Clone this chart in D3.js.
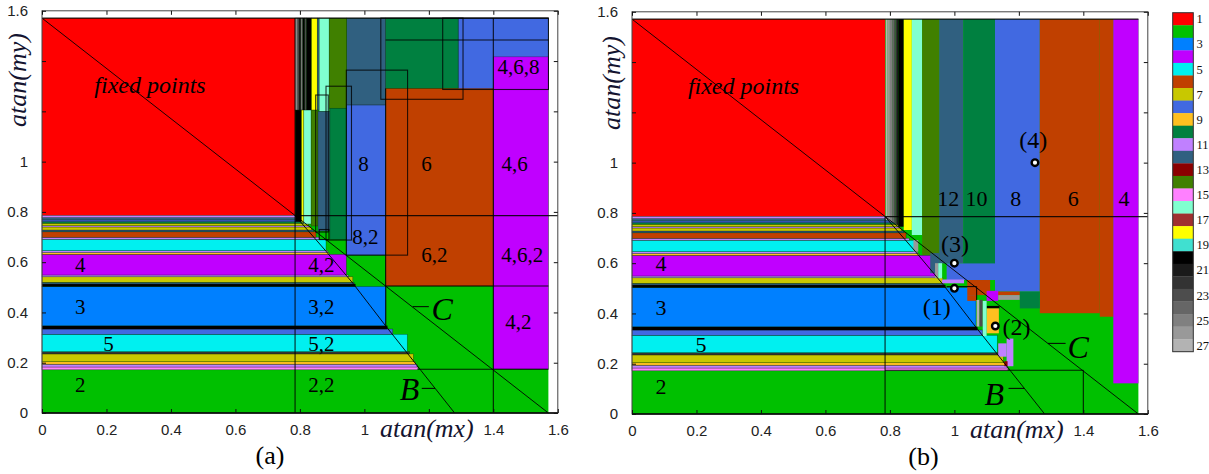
<!DOCTYPE html>
<html><head><meta charset="utf-8">
<script src="https://cdn.jsdelivr.net/npm/d3@7"></script>
<style>body{margin:0;background:#fff;overflow:hidden} svg{display:block}</style>
</head><body><svg id="c" width="1209" height="474"></svg>
<script>
// ---------- DATA ----------
const HALF_PI = Math.PI / 2, QUARTER_PI = Math.PI / 4;
const legendPeriods = [1,2,3,4,5,6,7,8,9,10,11,12,13,14,15,16,17,18,19,20,21,22,23,24,25,26,27];
const palette = ["#ff0000","#00c000","#0080ff","#c000ff","#00f0f0","#c04000","#c8c800","#4169e1","#ffc020","#008040",
  "#c080ff","#306080","#8b0000","#408000","#ff80ff","#80ffd0","#a03030","#ffff00","#40e0d0","#000000",
  "#1a1a1a","#333333","#4d4d4d","#666666","#808080","#999999","#b3b3b3"];
const legendLabels = [1,3,5,7,9,11,13,15,17,19,21,23,25,27];
const xTicks = [0,0.2,0.4,0.6,0.8,1,1.2,1.4,1.6];
const xTickLabels = ["0","0.2","0.4","0.6","0.8","1","","1.4","1.6"];
const yTickLabels = ["0","0.2","0.4","0.6","0.8","1","","","1.6"];

// horizontal bands: [y0, y1, period, xEnd]
const bands = [
 [0.172,0.183,15,1.166],[0.183,0.194,11,1.163],[0.194,0.204,9,1.158],[0.204,0.235,7,1.152],
 [0.235,0.244,22,1.140],[0.244,0.313,5,1.133],[0.313,0.334,8,1.088],[0.334,0.347,20,1.071],
 [0.347,0.503,3,1.067],[0.503,0.513,20,0.972],[0.513,0.520,12,0.968],[0.520,0.542,7,0.964],
 [0.542,0.549,11,0.950],[0.549,0.631,4,0.944],[0.631,0.638,9,0.890],[0.638,0.646,11,0.886],
 [0.646,0.691,5,0.881],[0.691,0.699,11,0.860],[0.699,0.721,6,0.850],[0.721,0.728,12,0.842],
 [0.728,0.740,7,0.836],[0.740,0.745,11,0.830],[0.745,0.755,7,0.826],[0.755,0.761,10,0.820],
 [0.761,0.768,8,0.815],[0.768,0.777,12,0.808],[0.777,0.786,11,0.800]
];

// panel (a) regions: [x0, x1, y0, y1, period]
const leftRegions = [
 [1.291,1.571,1.287,1.571,8],[1.066,1.291,1.291,1.571,10],[0.945,1.066,1.225,1.571,12],
 [1.066,1.400,0.505,1.291,6],[1.400,1.571,0.175,1.417,4],[0.945,1.066,0.628,1.225,8],
 [0.785,0.791,1.205,1.571,27],[0.791,0.797,1.205,1.571,24],[0.797,0.803,1.205,1.571,21],
 [0.803,0.809,1.205,1.571,25],[0.809,0.815,1.205,1.571,20],[0.815,0.821,1.205,1.571,23],
 [0.821,0.836,1.205,1.571,20],[0.836,0.854,1.205,1.571,18],[0.854,0.860,1.205,1.571,12],
 [0.860,0.891,1.200,1.571,16],[0.891,0.945,1.212,1.571,14],
 [0.786,0.805,0.761,1.205,20],[0.805,0.812,0.758,1.205,18],[0.812,0.835,0.752,1.205,16],
 [0.835,0.856,0.744,1.205,14],[0.856,0.893,0.724,1.200,12],[0.893,0.945,0.690,1.212,10]
];
const leftBoxes = [
 [0.944,1.134,0.628,1.364],[1.051,1.306,1.248,1.571],[1.243,1.571,1.287,1.571],
 [0.881,0.960,0.688,1.300],[0.849,0.888,0.720,1.265],[0.860,0.890,0.690,0.730]
];
const leftLines = [
 [0.785,0,0.785,1.571],[0.785,0.785,1.6,0.785],[1.066,0.347,1.066,1.291],
 [1.066,0.505,1.571,0.505],[1.066,1.484,1.571,1.484],[1.400,0,1.400,1.571],
 [1.165,0.174,1.571,0.174],[0,1.571,1.571,1.571]
];
const leftLabels = [
 ["4,6,8",1.478,1.378],["8",0.997,0.993],["6",1.193,0.993],["4,6",1.466,0.993],
 ["8,2",1.003,0.701],["6,2",1.217,0.628],["4,6,2",1.490,0.628],["4",0.119,0.589],
 ["4,2",0.867,0.589],["3",0.119,0.423],["3,2",0.867,0.423],["4,2",1.478,0.363],
 ["5",0.206,0.277],["5,2",0.867,0.277],["2",0.119,0.111],["2,2",0.867,0.111]
];
const leftLetters = [["C",1.241,0.416,1.150,1.200,0.423],["B",1.140,0.098,1.178,1.219,0.098]];

// panel (b) vertical strips: [x0, x1, yBottom, period]
const rightStrips = [
 [0.787,0.793,0.772,27],[0.793,0.800,0.770,26],[0.800,0.807,0.766,25],[0.807,0.813,0.762,24],
 [0.813,0.818,0.758,23],[0.818,0.822,0.755,22],[0.822,0.826,0.752,21],[0.826,0.843,0.745,20],
 [0.843,0.868,0.732,18],[0.868,0.900,0.712,16],[0.900,0.953,0.633,14],[0.953,1.028,0.599,12],
 [1.028,1.126,0.566,10],[1.126,1.265,0.487,8],[1.265,1.451,0.401,6],[1.451,1.493,0.387,6],
 [1.493,1.571,0.122,4]
];
// panel (b) small patches: [x0, x1, y0, y1, period]
const rightPatches = [
 [0.873,0.888,0.646,0.692,26],[0.925,0.953,0.560,0.640,12],[0.940,0.950,0.540,0.600,26],
 [0.950,0.962,0.540,0.600,16],[0.976,1.126,0.533,0.599,8],[0.962,1.030,0.520,0.535,11],
 [1.040,1.111,0.473,0.533,6],[1.111,1.203,0.473,0.487,6],[1.040,1.069,0.450,0.473,6],
 [1.100,1.136,0.450,0.490,4],[1.136,1.203,0.454,0.473,26],[1.203,1.265,0.420,0.487,10],
 [1.100,1.140,0.420,0.430,20],[1.100,1.138,0.321,0.420,9],[1.069,1.078,0.348,0.454,27],
 [1.078,1.088,0.348,0.454,23],[1.088,1.100,0.310,0.450,16],[1.136,1.162,0.228,0.281,11],
 [1.162,1.183,0.190,0.300,11],[1.155,1.165,0.190,0.210,13]
];
const rightLines = [
 [0.785,0,0.785,0.785],[0.785,0.785,1.6,0.785],[0.785,0.174,1.400,0.174],[1.400,0,1.400,0.174],
 [0.976,0.507,1.069,0.507],[1.069,0.454,1.069,0.507],[0,1.571,1.571,1.571]
];
const rightLabels = [
 ["12",0.981,0.858],["10",1.069,0.858],["8",1.190,0.858],["6",1.369,0.858],["4",1.526,0.858],
 ["4",0.090,0.600],["3",0.090,0.423],["5",0.214,0.277],["2",0.090,0.111]
];
const rightLetters = [["C",1.384,0.268,1.290,1.345,0.281],["B",1.124,0.082,1.168,1.217,0.102]];
const points = [[1.0,0.5],[1.127,0.35],[1.0,0.6],[1.25,1.0]];
const pointLabels = [["(1)",0.945,0.427],["(2)",1.193,0.347],["(3)",1.002,0.679],["(4)",1.245,1.09]];

const lineDiag = [[0,1.5708],[1.5708,0]];
const lineB = [[0.785,0.785],[0.88,0.645],[0.965,0.515],[1.067,0.345],[1.135,0.235],[1.175,0.17],[1.28,0]];

// ---------- DRAW ----------
const svg = d3.select("#c");
const color = d3.scaleOrdinal(legendPeriods, palette);
const SERIF = "'Liberation Serif','DejaVu Serif',serif";
const SANS = "'Liberation Sans',Arial,sans-serif";

function panel(px0, pyb, opts) {
  const x = d3.scaleLinear().domain([0,1.6]).range([px0, px0 + 515.8]);
  const y = d3.scaleLinear().domain([0,1.6]).range([pyb, pyb - 402.2]);
  const g = svg.append("g");
  const R = (sel, a, b, c, d) => sel.attr("x", x(a)).attr("y", y(d))
      .attr("width", Math.max(0, x(b) - x(a))).attr("height", Math.max(0, y(c) - y(d)));

  R(g.append("rect"), 0, HALF_PI, 0, HALF_PI).attr("fill", color(2));
  R(g.append("rect"), 0, QUARTER_PI, QUARTER_PI, HALF_PI).attr("fill", color(1));

  g.append("g").selectAll("rect").data(bands).join("rect")
    .each(function(d){ R(d3.select(this), 0, d[3], d[0], d[1]); })
    .attr("fill", d => color(d[2]))
    .attr("stroke", "rgba(0,0,0,0.45)").attr("stroke-width", 0.6);

  if (opts.regions) {
    g.append("g").selectAll("rect").data(opts.regions).join("rect")
      .each(function(d){ R(d3.select(this), d[0], d[1], d[2], d[3]); })
      .attr("fill", d => color(d[4]))
      .attr("stroke", "rgba(0,0,0,0.35)").attr("stroke-width", 0.7);
  }
  if (opts.strips) {
    g.append("g").selectAll("rect").data(opts.strips).join("rect")
      .each(function(d){ R(d3.select(this), d[0], d[1], d[2], HALF_PI); })
      .attr("fill", d => color(d[3]));
  }
  if (opts.patches) {
    g.append("g").selectAll("rect").data(opts.patches).join("rect")
      .each(function(d){ R(d3.select(this), d[0], d[1], d[2], d[3]); })
      .attr("fill", d => color(d[4]));
  }
  if (opts.boxes) {
    g.append("g").selectAll("rect").data(opts.boxes).join("rect")
      .each(function(d){ R(d3.select(this), d[0], d[1], d[2], d[3]); })
      .attr("fill", "none").attr("stroke", "rgba(0,0,0,0.8)").attr("stroke-width", 1.1);
  }
  g.append("g").selectAll("line").data(opts.lines).join("line")
    .attr("x1", d => x(d[0])).attr("y1", d => y(d[1])).attr("x2", d => x(d[2])).attr("y2", d => y(d[3]))
    .attr("stroke", "rgba(0,0,0,0.85)").attr("stroke-width", 1.1);

  const line = d3.line().x(d => x(d[0])).y(d => y(d[1]));
  g.append("path").attr("d", line(lineDiag)).attr("fill","none").attr("stroke","#000").attr("stroke-width",0.9);
  g.append("path").attr("d", line(lineB)).attr("fill","none").attr("stroke","#000").attr("stroke-width",0.9);

  g.append("rect").attr("x", x(0)).attr("y", y(1.6)).attr("width", x(1.6)-x(0)).attr("height", y(0)-y(1.6))
    .attr("fill","none").attr("stroke","#444").attr("stroke-width",1);
  g.append("line").attr("x1",x(0)).attr("x2",x(1.6)).attr("y1",y(0)).attr("y2",y(0)).attr("stroke","#000").attr("stroke-width",1.5);

  const styleAxis = a => { a.select(".domain").remove(); a.selectAll("line").attr("stroke","#111");
    a.selectAll("text").attr("font-family", SANS).attr("font-size", 15).attr("fill","#222"); };
  g.append("g").attr("transform", `translate(0,${pyb})`)
    .call(d3.axisBottom(x).tickValues(xTicks).tickSizeInner(-4).tickSizeOuter(0).tickPadding(11)
      .tickFormat((d,i) => xTickLabels[i])).call(styleAxis);
  g.append("g").attr("transform", `translate(${px0},0)`)
    .call(d3.axisLeft(y).tickValues(xTicks).tickSizeInner(-4).tickSizeOuter(0).tickPadding(14)
      .tickFormat((d,i) => yTickLabels[i])).call(styleAxis);
  g.append("g").attr("transform", `translate(0,${y(1.6)})`)
    .call(d3.axisTop(x).tickValues(xTicks).tickSizeInner(-4).tickSizeOuter(0).tickFormat("")).call(styleAxis);
  g.append("g").attr("transform", `translate(${x(1.6)},0)`)
    .call(d3.axisRight(y).tickValues(xTicks).tickSizeInner(-4).tickSizeOuter(0).tickFormat("")).call(styleAxis);

  g.append("text").attr("x", x(opts.fixedX)).attr("y", y(1.30)).attr("dy","0.3em")
    .attr("text-anchor","middle").attr("font-family",SERIF).attr("font-style","italic")
    .attr("font-size",24).text("fixed points");
  g.append("g").selectAll("text").data(opts.labels).join("text")
    .attr("x", d => x(d[1])).attr("y", d => y(d[2])).attr("dy","0.35em").attr("text-anchor","middle")
    .attr("font-family",SERIF).attr("font-size", opts.labelSize).attr("fill","#000").text(d => d[0]);
  const lg = g.append("g");
  opts.letters.forEach(d => {
    lg.append("line").attr("x1", x(d[3])).attr("x2", x(d[4])).attr("y1", y(d[5])).attr("y2", y(d[5]))
      .attr("stroke","#000").attr("stroke-width",1);
    lg.append("text").attr("x", x(d[1])).attr("y", y(d[2])).attr("dy","0.35em").attr("text-anchor","middle")
      .attr("font-family",SERIF).attr("font-style","italic").attr("font-size",32).text(d[0]);
  });

  g.append("text").attr("x", x(1.2) - 2).attr("y", pyb + 24).attr("text-anchor","middle")
    .attr("font-family",SERIF).attr("font-style","italic").attr("font-size",26).attr("fill","#141430").text("atan(mx)");
  g.append("text").attr("transform", `translate(${px0 + opts.ylabDx},${opts.ylabY}) rotate(-90)`)
    .attr("text-anchor","middle").attr("font-family",SERIF).attr("font-style","italic")
    .attr("font-size",26).attr("fill","#141430").text("atan(my)");
  g.append("text").attr("x", px0 + opts.panelDx).attr("y", pyb + 51).attr("text-anchor","middle")
    .attr("font-family",SERIF).attr("font-size",26).text(opts.panel);

  return {g, x, y};
}

const A = panel(42, 413, {
  regions: leftRegions, boxes: leftBoxes, lines: leftLines, labels: leftLabels, letters: leftLetters,
  labelSize: 21, fixedX: 0.335, ylabDx: -16, ylabY: 80, panelDx: 228, panel: "(a)"
});

const B = panel(632, 414, {
  strips: rightStrips, patches: rightPatches, lines: rightLines, labels: rightLabels, letters: rightLetters,
  labelSize: 22, fixedX: 0.346, ylabDx: -12, ylabY: 83, panelDx: 291.5, panel: "(b)"
});

B.g.append("g").selectAll("circle").data(points).join("circle")
  .attr("cx", d => B.x(d[0])).attr("cy", d => B.y(d[1])).attr("r", 3.3)
  .attr("fill","#fff").attr("stroke","#000").attr("stroke-width",2.4);
B.g.append("g").selectAll("text").data(pointLabels).join("text")
  .attr("x", d => B.x(d[1])).attr("y", d => B.y(d[2])).attr("dy","0.35em").attr("text-anchor","middle")
  .attr("font-family",SERIF).attr("font-size",24).text(d => d[0]);

// legend (colour bar)
const ly = d3.scaleBand().domain(legendPeriods).range([12.7, 351.7]);
const leg = svg.append("g");
leg.selectAll("rect").data(legendPeriods).join("rect")
  .attr("x", 1172.7).attr("y", d => ly(d)).attr("width", 20.6).attr("height", ly.bandwidth() + 0.3)
  .attr("fill", d => color(d));
leg.append("rect").attr("x", 1172.7).attr("y", 12.7).attr("width", 20.6).attr("height", 339)
  .attr("fill","none").attr("stroke","#333").attr("stroke-width",1);
leg.selectAll("text").data(legendLabels).join("text")
  .attr("x", 1196.5).attr("y", d => ly(d) + ly.bandwidth()/2).attr("dy","0.35em")
  .attr("font-family",SERIF).attr("font-size",12.5).attr("fill","#111").text(d => d);
</script></body></html>
